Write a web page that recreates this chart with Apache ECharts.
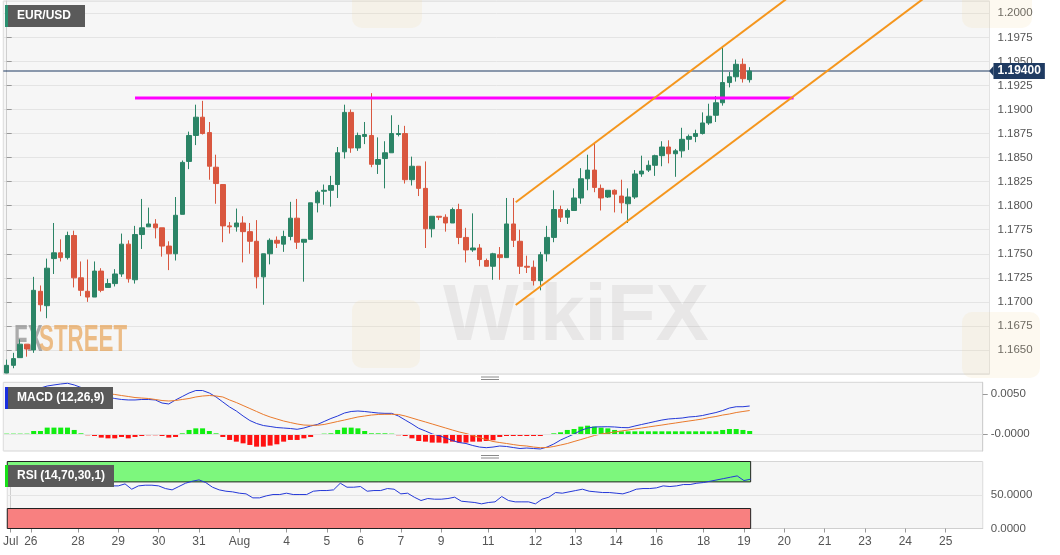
<!DOCTYPE html>
<html><head><meta charset="utf-8">
<script src="https://cdn.jsdelivr.net/npm/echarts@6/dist/echarts.min.js"></script>
<style>html,body{margin:0;padding:0;background:#fff}#c{width:1060px;height:555px}</style>
</head><body><div id="c"></div>
<script>
// ---- DATA (4-hour candles, EUR/USD) ----
const opens = [1.1626,1.1634,1.1642,1.1656,1.1650,1.1711,1.1696,1.1745,1.1751,1.1746,
1.1769,1.1725,1.1711,1.1705,1.1732,1.1715,1.1719,1.1729,1.1760,1.1723,
1.1770,1.1778,1.1781,1.1777,1.1758,1.1750,1.1791,1.1846,1.1873,1.1892,
1.1876,1.1840,1.1822,1.1779,1.1778,1.1782,1.1773,1.1763,1.1726,1.1750,
1.1764,1.1760,1.1768,1.1787,1.1762,1.1765,1.1803,1.1815,1.1816,1.1822,
1.1856,1.1897,1.1860,1.1872,1.1873,1.1843,1.1849,1.1855,1.1874,1.1875,
1.1827,1.1841,1.1818,1.1776,1.1789,1.1788,1.1782,1.1796,1.1767,1.1754,
1.1756,1.1743,1.1737,1.1749,1.1746,1.1781,1.1763,1.1737,1.1736,1.1722,
1.1750,1.1767,1.1796,1.1788,1.1795,1.1808,1.1828,1.1837,1.1818,1.1809,
1.1816,1.1810,1.1802,1.1809,1.1833,1.1837,1.1842,1.1852,1.1861,1.1854,
1.1857,1.1869,1.1872,1.1875,1.1886,1.1894,1.1907,1.1928,1.1934,1.1947,
1.1931];
const closes = [1.1634,1.1641,1.1656,1.1651,1.1712,1.1697,1.1735,1.1751,1.1746,1.1769,
1.1725,1.1712,1.1705,1.1732,1.1712,1.1719,1.1729,1.1760,1.1724,1.1770,
1.1777,1.1781,1.1777,1.1758,1.1750,1.1790,1.1845,1.1873,1.1892,1.1875,
1.1841,1.1823,1.1779,1.1778,1.1782,1.1773,1.1763,1.1726,1.1750,1.1764,
1.1761,1.1768,1.1787,1.1762,1.1765,1.1803,1.1814,1.1816,1.1821,1.1855,
1.1897,1.1860,1.1873,1.1874,1.1843,1.1848,1.1855,1.1875,1.1875,1.1827,
1.1841,1.1818,1.1776,1.1789,1.1788,1.1782,1.1796,1.1767,1.1754,1.1756,
1.1744,1.1737,1.1750,1.1746,1.1781,1.1764,1.1737,1.1736,1.1722,1.1749,
1.1767,1.1796,1.1788,1.1795,1.1808,1.1828,1.1837,1.1819,1.1808,1.1816,
1.1812,1.1803,1.1809,1.1833,1.1836,1.1842,1.1852,1.1861,1.1854,1.1857,
1.1869,1.1872,1.1875,1.1886,1.1893,1.1907,1.1928,1.1934,1.1947,1.1932,
1.1940];
const lows = [1.1626,1.1631,1.1642,1.1643,1.1647,1.1690,1.1683,1.1729,1.1742,1.1744,
1.1715,1.1706,1.1700,1.1705,1.1710,1.1715,1.1716,1.1726,1.1720,1.1719,
1.1755,1.1778,1.1766,1.1747,1.1733,1.1743,1.1791,1.1838,1.1863,1.1874,
1.1827,1.1802,1.1762,1.1771,1.1773,1.1741,1.1750,1.1714,1.1697,1.1739,
1.1756,1.1752,1.1764,1.1755,1.1721,1.1765,1.1793,1.1801,1.1799,1.1808,
1.1849,1.1855,1.1857,1.1864,1.1840,1.1833,1.1818,1.1855,1.1872,1.1823,
1.1821,1.1810,1.1756,1.1767,1.1785,1.1773,1.1782,1.1760,1.1741,1.1752,
1.1737,1.1737,1.1723,1.1723,1.1746,1.1757,1.1729,1.1730,1.1717,1.1712,
1.1742,1.1762,1.1783,1.1781,1.1795,1.1802,1.1816,1.1814,1.1795,1.1808,
1.1793,1.1792,1.1782,1.1807,1.1830,1.1835,1.1831,1.1841,1.1844,1.1830,
1.1850,1.1858,1.1866,1.1874,1.1884,1.1887,1.1904,1.1923,1.1929,1.1928,
1.1928];
const highs = [1.1640,1.1647,1.1661,1.1656,1.1726,1.1717,1.1745,1.1782,1.1765,1.1773,
1.1774,1.1742,1.1744,1.1742,1.1735,1.1724,1.1734,1.1771,1.1764,1.1779,
1.1807,1.1798,1.1786,1.1777,1.1763,1.1809,1.1847,1.1877,1.1905,1.1909,
1.1887,1.1853,1.1822,1.1783,1.1797,1.1789,1.1782,1.1785,1.1750,1.1766,
1.1768,1.1774,1.1804,1.1807,1.1765,1.1803,1.1816,1.1822,1.1831,1.1861,
1.1905,1.1900,1.1876,1.1887,1.1917,1.1871,1.1867,1.1894,1.1884,1.1883,
1.1851,1.1841,1.1846,1.1789,1.1789,1.1791,1.1798,1.1802,1.1777,1.1792,
1.1760,1.1745,1.1751,1.1757,1.1808,1.1808,1.1775,1.1748,1.1743,1.1752,
1.1779,1.1816,1.1800,1.1797,1.1818,1.1839,1.1853,1.1865,1.1822,1.1816,
1.1817,1.1827,1.1818,1.1837,1.1852,1.1847,1.1853,1.1867,1.1868,1.1859,
1.1881,1.1874,1.1879,1.1897,1.1906,1.1914,1.1966,1.1939,1.1952,1.1953,
1.1944];

const macdLine = [0.00463,0.00500,0.00525,0.00550,0.00562,0.00574,0.00599,0.00612,0.00624,0.00633,
0.00612,0.00581,0.00543,0.00512,0.00488,0.00463,0.00444,0.00432,0.00426,0.00426,
0.00432,0.00432,0.00426,0.00388,0.00376,0.00426,0.00469,0.00512,0.00543,0.00543,
0.00512,0.00463,0.00401,0.00339,0.00289,0.00227,0.00171,0.00134,0.00109,0.00097,
0.00084,0.00078,0.00072,0.00062,0.00078,0.00103,0.00122,0.00159,0.00196,0.00227,
0.00264,0.00283,0.00289,0.00283,0.00273,0.00264,0.00260,0.00260,0.00227,0.00177,
0.00128,0.00074,0.00041,0.00004,-0.00015,-0.00046,-0.00077,-0.00102,-0.00114,-0.00139,
-0.00158,-0.00166,-0.00158,-0.00145,-0.00151,-0.00164,-0.00176,-0.00170,-0.00176,-0.00182,
-0.00158,-0.00120,-0.00071,-0.00033,0.00004,0.00047,0.00078,0.00091,0.00093,0.00094,
0.00091,0.00084,0.00082,0.00103,0.00122,0.00140,0.00159,0.00177,0.00190,0.00196,
0.00202,0.00215,0.00221,0.00233,0.00252,0.00270,0.00295,0.00326,0.00342,0.00342,
0.00351];
const signalLine = [0.00438,0.00456,0.00475,0.00487,0.00500,0.00508,0.00525,0.00537,0.00549,0.00556,
0.00562,0.00556,0.00549,0.00537,0.00518,0.00506,0.00494,0.00481,0.00469,0.00456,
0.00450,0.00444,0.00432,0.00419,0.00413,0.00419,0.00432,0.00444,0.00463,0.00475,
0.00481,0.00475,0.00463,0.00426,0.00394,0.00357,0.00320,0.00283,0.00246,0.00215,
0.00190,0.00165,0.00146,0.00128,0.00115,0.00112,0.00112,0.00122,0.00140,0.00159,
0.00177,0.00196,0.00215,0.00227,0.00239,0.00246,0.00248,0.00248,0.00246,0.00227,
0.00202,0.00177,0.00153,0.00128,0.00103,0.00078,0.00053,0.00029,0.00010,-0.00015,
-0.00040,-0.00065,-0.00089,-0.00102,-0.00114,-0.00127,-0.00139,-0.00145,-0.00158,-0.00166,
-0.00164,-0.00151,-0.00133,-0.00114,-0.00089,-0.00065,-0.00040,-0.00015,0.00004,0.00016,
0.00029,0.00041,0.00053,0.00066,0.00078,0.00091,0.00103,0.00115,0.00128,0.00140,
0.00153,0.00165,0.00177,0.00190,0.00208,0.00221,0.00239,0.00252,0.00270,0.00283,
0.00295];
const macdHist = [0.00008,0.00008,0.00008,0.00008,0.00041,0.00041,0.00083,0.00083,0.00083,0.00083,
0.00054,0.00012,-0.00012,-0.00021,-0.00041,-0.00050,-0.00050,-0.00033,-0.00050,-0.00033,
-0.00021,-0.00012,-0.00012,-0.00021,-0.00041,-0.00033,0.00012,0.00054,0.00074,0.00074,
0.00041,0.00012,-0.00033,-0.00070,-0.00091,-0.00112,-0.00132,-0.00153,-0.00153,-0.00140,
-0.00124,-0.00091,-0.00070,-0.00070,-0.00050,-0.00033,-0.00008,0.00008,0.00012,0.00054,
0.00083,0.00083,0.00074,0.00041,0.00012,0.00012,0.00012,0.00008,-0.00012,-0.00021,
-0.00050,-0.00083,-0.00091,-0.00103,-0.00103,-0.00112,-0.00091,-0.00103,-0.00103,-0.00091,
-0.00091,-0.00083,-0.00074,-0.00033,-0.00021,-0.00021,-0.00021,-0.00021,-0.00021,-0.00021,
0,0.00012,0.00025,0.00054,0.00066,0.00095,0.00107,0.00095,0.00083,0.00074,
0.00054,0.00037,0.00037,0.00037,0.00037,0.00037,0.00037,0.00037,0.00037,0.00037,
0.00037,0.00037,0.00037,0.00037,0.00037,0.00037,0.00054,0.00066,0.00066,0.00054,
0.00041];
const rsiLine = [67,66,68,66,72,69,72,73,72,74,
68,66,64,66,63,64,64,67,59,64,
65,65,64,60,58,63,68,71,73,69,
62,58,56,55,53,52,46,46,49,51,
51,53,51,51,51,56,57,57,58,68,
62,62,63,56,57,57,60,59,52,53,
47,42,45,44,44,45,47,41,40,39,
37,39,40,48,42,40,40,40,37,44,
47,54,53,55,57,59,56,55,54,54,
53,52,55,59,60,60,61,64,63,64,
66,66,68,69,71,73,75,77,79,72,
74];

// x-axis date ticks (slot index -> label)
const xTickSlots  = [0,3,10,16,22,28,34,41,47,52,58,64,71,78,84,90,96,103,109,115,121,127,133,139];
const xTickLabels = ['Jul','26','28','29','30','31','Aug','4','5','6','7','9','11','12','13','14','16','18','19','20','21','23','24','25'];
const monthStartSlot = 34;

const lastPrice = 1.1940;
const resistance = [[19.0, 1.1912], [116.5, 1.1912]];
const channelUpper = [[75.36, 1.18035], [120, 1.2039]];
const channelLower = [[75.36, 1.16968], [140, 1.20378]];
const rsiOverbought = [70, 100.6];
const rsiOversold = [0, 30];
const rsiBandEnd = 110;

const macdTicks = [0, 0.005];
const macdTickLabels = ['-0.0000', '0.0050'];
const rsiTicks = [0, 50];
const rsiTickLabels = ['0.0000', '50.0000'];

// ---- BUILD ----
const SLOTS_MAIN = 146, SLOTS_LOW = 145;
const mainCats = Array.from({length: SLOTS_MAIN}, (_, i) => String(i));
const lowCats = Array.from({length: SLOTS_LOW}, (_, i) => String(i));
const tickMap = {};
xTickSlots.forEach((s, k) => tickMap[s] = xTickLabels[k]);
const candles = opens.map((o, i) => [o, closes[i], lows[i], highs[i]]);

const FONT = 'Liberation Sans, Arial, sans-serif';
const UP = '#2b8466', DOWN = '#d9573f';
const NAVY = '#1f3b62';
const gridBg = '#f6f6f6', gridBorder = '#d6d6d6', splitC = '#e4e4e4';
const L = 3.3, W = 6.7547;

function pick(ticks, labels) {
  return v => { const k = ticks.findIndex(t => Math.abs(t - v) < 1e-9); return k >= 0 ? labels[k] : ''; };
}
const vSplit = { show: true, interval: (i) => i === monthStartSlot, lineStyle: { color: '#e2e2e2' } };

const chart = echarts.init(document.getElementById('c'), null, { renderer: 'canvas' });
const option = {
  animation: false,
  textStyle: { fontFamily: FONT },
  grid: [
    { left: L, top: 1, width: SLOTS_MAIN * W, height: 373, show: true, backgroundColor: gridBg, borderColor: gridBorder, borderWidth: 1, z: 0 },
    { left: L, top: 382.3, width: SLOTS_LOW * W, height: 68.7, show: true, backgroundColor: gridBg, borderColor: gridBorder, borderWidth: 1, z: 0 },
    { left: L, top: 461.5, width: SLOTS_LOW * W, height: 67, show: true, backgroundColor: gridBg, borderColor: gridBorder, borderWidth: 1, z: 0 }
  ],
  xAxis: [
    { type: 'category', gridIndex: 0, data: mainCats, axisLine: { show: false }, axisTick: { show: false }, axisLabel: { show: false }, splitLine: vSplit },
    { type: 'value', gridIndex: 0, min: -0.5, max: SLOTS_MAIN - 0.5, show: false },
    { type: 'category', gridIndex: 1, data: lowCats, axisLine: { show: false }, axisTick: { show: false }, axisLabel: { show: false }, splitLine: vSplit },
    { type: 'category', gridIndex: 2, data: lowCats,
      axisLine: { show: true, lineStyle: { color: '#cfcfcf' } },
      axisTick: { show: true, alignWithLabel: true, interval: (i) => tickMap[i] !== undefined, length: 4, lineStyle: { color: '#999' } },
      axisLabel: { show: true, interval: (i) => tickMap[i] !== undefined, formatter: (v, i) => tickMap[i] || '', color: '#555', fontSize: 12, margin: 7, fontFamily: FONT },
      splitLine: vSplit },
    { type: 'value', gridIndex: 2, min: -0.5, max: SLOTS_LOW - 0.5, show: false }
  ],
  yAxis: [
    { type: 'value', gridIndex: 0, position: 'right', min: 1.1625, max: 1.20128, interval: 0.0025,
      axisLine: { show: true, lineStyle: { color: '#cfcfcf' } },
      axisTick: { show: true, length: 5, lineStyle: { color: '#999' } },
      axisLabel: { formatter: v => v.toFixed(4), color: '#555', fontSize: 11.5, margin: 8, showMinLabel: false, showMaxLabel: false, fontFamily: FONT },
      splitLine: { show: true, lineStyle: { color: splitC } } },
    { type: 'value', gridIndex: 1, position: 'right', min: -0.00207, max: 0.00645,
      axisLine: { show: true, lineStyle: { color: '#cfcfcf' } },
      axisTick: { show: true, length: 5, customValues: macdTicks, lineStyle: { color: '#999' } },
      axisLabel: { customValues: macdTicks, formatter: pick(macdTicks, macdTickLabels), color: '#555', fontSize: 11.5, margin: 8, fontFamily: FONT },
      splitLine: { show: false } },
    { type: 'value', gridIndex: 2, position: 'right', min: 0, max: 100.6,
      axisLine: { show: true, lineStyle: { color: '#cfcfcf' } },
      axisTick: { show: true, length: 5, customValues: rsiTicks, lineStyle: { color: '#999' } },
      axisLabel: { customValues: rsiTicks, formatter: pick(rsiTicks, rsiTickLabels), color: '#555', fontSize: 11.5, margin: 8, fontFamily: FONT },
      splitLine: { show: false } }
  ],
  series: [
    { type: 'candlestick', name: 'EUR/USD', xAxisIndex: 0, yAxisIndex: 0, data: candles, barWidth: 5, z: 3,
      itemStyle: { color: UP, color0: DOWN, borderColor: UP, borderColor0: DOWN, borderWidth: 1 } },
    { type: 'line', name: 'last', xAxisIndex: 1, yAxisIndex: 0, symbol: 'none', z: 3,
      data: [[-0.5, lastPrice], [SLOTS_MAIN - 0.5, lastPrice]],
      lineStyle: { color: NAVY, width: 1.2 },
      endLabel: { show: true, distance: 4, formatter: () => lastPrice.toFixed(5),
        backgroundColor: NAVY, color: '#fff', fontWeight: 'bold', fontSize: 12, padding: [2, 4, 2, 4], fontFamily: FONT } },
    { type: 'line', name: 'resistance', xAxisIndex: 1, yAxisIndex: 0, data: resistance, symbol: 'none', z: 4,
      lineStyle: { color: '#ff00ff', width: 3 } },
    { type: 'line', name: 'channel-up', xAxisIndex: 1, yAxisIndex: 0, data: channelUpper, symbol: 'none', z: 4, clip: true,
      lineStyle: { color: '#f5961d', width: 2 } },
    { type: 'line', name: 'channel-low', xAxisIndex: 1, yAxisIndex: 0, data: channelLower, symbol: 'none', z: 4, clip: true,
      lineStyle: { color: '#f5961d', width: 2 } },
    { type: 'bar', name: 'hist', xAxisIndex: 2, yAxisIndex: 1, barWidth: 5, z: 2,
      data: macdHist.map(v => ({ value: v, itemStyle: { color: v >= 0 ? '#11ee11' : '#ff1111' } })),
      markLine: { silent: true, symbol: ['none', 'none'], label: { show: false },
        lineStyle: { color: splitC, width: 1, type: 'solid' },
        data: macdTicks.map(t => ({ yAxis: t })) } },
    { type: 'line', name: 'MACD', xAxisIndex: 2, yAxisIndex: 1, data: macdLine, symbol: 'none', z: 3,
      lineStyle: { color: '#2438d8', width: 1 } },
    { type: 'line', name: 'Signal', xAxisIndex: 2, yAxisIndex: 1, data: signalLine, symbol: 'none', z: 3,
      lineStyle: { color: '#ea7a2c', width: 1 } },
    { type: 'line', name: 'bands', xAxisIndex: 4, yAxisIndex: 2, data: [[0, null]], symbol: 'none', z: 1,
      lineStyle: { opacity: 0 },
      markLine: { silent: true, symbol: ['none', 'none'], label: { show: false },
        lineStyle: { color: splitC, width: 1, type: 'solid' }, data: [{ yAxis: rsiTicks[1] }] },
      markArea: { silent: true, data: [
        [{ coord: [-0.5, rsiOverbought[0]], itemStyle: { color: '#7df77d', borderColor: '#222', borderWidth: 1 } }, { coord: [rsiBandEnd, rsiOverbought[1]] }],
        [{ coord: [-0.5, rsiOversold[0]], itemStyle: { color: '#f88080', borderColor: '#222', borderWidth: 1 } }, { coord: [rsiBandEnd, rsiOversold[1]] }]
      ] } },
    { type: 'line', name: 'RSI', xAxisIndex: 3, yAxisIndex: 2, data: rsiLine, symbol: 'none', z: 5,
      lineStyle: { color: '#2438d8', width: 1 } }
  ]
};
chart.setOption(option);

// decorations: watermarks, panel labels, separators, price pointer
const py = chart.convertToPixel({ yAxisIndex: 0 }, lastPrice);
const rx = L + SLOTS_MAIN * W;
function tag(x, y, w, text, stripe) {
  return [
    { type: 'rect', z: 20, shape: { x: x, y: y, width: w, height: 22 }, style: { fill: '#5a5a5a' } },
    { type: 'rect', z: 21, shape: { x: x, y: y, width: 3, height: 22 }, style: { fill: stripe } },
    { type: 'text', z: 22, x: x + 12, y: y + 11, style: { text: text, fill: '#fff', font: 'bold 12px ' + FONT, verticalAlign: 'middle' } }
  ];
}
function handle(cx, y) {
  return [
    { type: 'line', z: 20, shape: { x1: cx - 9, y1: y, x2: cx + 9, y2: y }, style: { stroke: '#8a8a8a', lineWidth: 1 } },
    { type: 'line', z: 20, shape: { x1: cx - 9, y1: y + 2.5, x2: cx + 9, y2: y + 2.5 }, style: { stroke: '#8a8a8a', lineWidth: 1 } }
  ];
}
chart.setOption({
  graphic: [
    { type: 'rect', z: 1, shape: { x: 352, y: 300, width: 68, height: 68, r: 10 }, style: { fill: 'rgba(240,215,160,0.16)' } },
    { type: 'rect', z: 1, shape: { x: 962, y: 312, width: 78, height: 66, r: 10 }, style: { fill: 'rgba(240,215,160,0.16)' } },
    { type: 'rect', z: 1, shape: { x: 352, y: -20, width: 70, height: 48, r: 10 }, style: { fill: 'rgba(240,215,160,0.16)' } },
    { type: 'rect', z: 1, shape: { x: 962, y: -20, width: 70, height: 48, r: 10 }, style: { fill: 'rgba(240,215,160,0.16)' } },
    { type: 'text', z: 1, x: 443, y: 318, style: { text: 'WikiFX', fill: 'rgba(150,140,140,0.14)', font: 'bold 80px ' + FONT, verticalAlign: 'middle' } },
    { type: 'text', z: 1, x: 14, y: 341, scaleX: 0.62, style: { text: 'FX', fill: 'rgba(110,110,110,0.55)', font: 'bold 36px ' + FONT, verticalAlign: 'middle' } },
    { type: 'text', z: 1, x: 39, y: 341, scaleX: 0.62, style: { text: 'STREET', fill: 'rgba(230,150,60,0.6)', font: 'bold 36px ' + FONT, verticalAlign: 'middle' } },
    ...tag(5, 5, 80, 'EUR/USD', '#2a9070'),
    ...tag(5, 387, 108, 'MACD (12,26,9)', '#1a2fe0'),
    ...tag(5, 465, 109, 'RSI (14,70,30,1)', '#18e018'),
    ...handle(490, 377),
    ...handle(490, 455.5),
    { type: 'polygon', z: 30, shape: { points: [[rx - 0.5, py], [rx + 4, py - 5], [rx + 4, py + 5]] }, style: { fill: NAVY } }
  ]
});
</script>
</body></html>
